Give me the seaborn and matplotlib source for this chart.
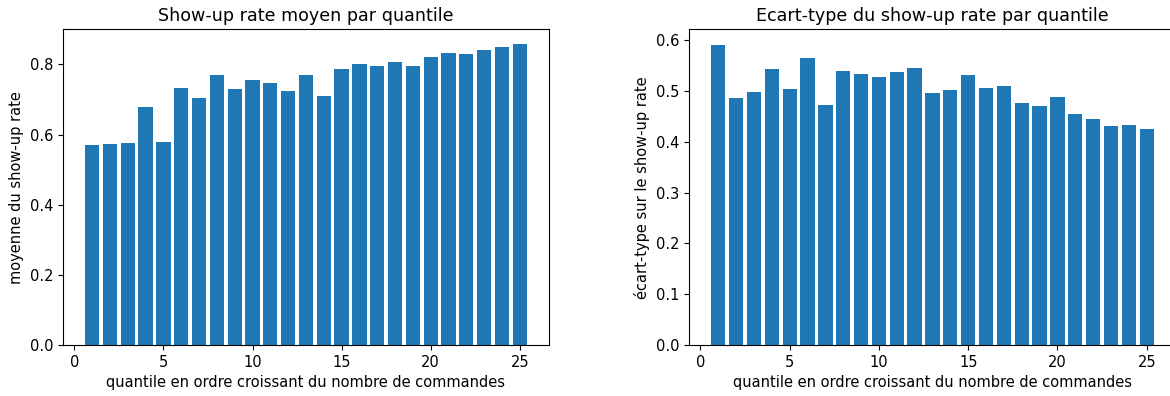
import matplotlib
matplotlib.use("Agg")
import matplotlib.pyplot as plt
import seaborn as sns
import pandas as pd

quantiles = list(range(1, 26))

mean_rate = [0.569, 0.574, 0.577, 0.680, 0.580, 0.734, 0.703, 0.771, 0.729, 0.757,
             0.746, 0.723, 0.769, 0.711, 0.786, 0.800, 0.797, 0.806, 0.797, 0.820,
             0.834, 0.831, 0.840, 0.851, 0.857]

std_rate = [0.591, 0.486, 0.498, 0.544, 0.504, 0.565, 0.473, 0.540, 0.534, 0.528,
            0.538, 0.546, 0.496, 0.502, 0.532, 0.507, 0.510, 0.477, 0.471, 0.488,
            0.455, 0.445, 0.431, 0.433, 0.425]

xticks = [0, 5, 10, 15, 20, 25]
yticks_mean = [0.0, 0.2, 0.4, 0.6, 0.8]
yticks_std = [0.0, 0.1, 0.2, 0.3, 0.4, 0.5, 0.6]

df = pd.DataFrame({"quantile": quantiles, "mean": mean_rate, "std": std_rate})

plt.rcParams["font.family"] = ["DejaVu Sans"]
plt.rcParams["font.size"] = 10.5
plt.rcParams["axes.titlesize"] = 12.6
plt.rcParams["axes.labelsize"] = 10.5
plt.rcParams["xtick.labelsize"] = 10.5
plt.rcParams["ytick.labelsize"] = 10.5

fig = plt.figure(figsize=(11.7, 3.96), dpi=100)
ax1 = fig.add_axes([0.0538, 0.1288, 0.4154, 0.797])
ax2 = fig.add_axes([0.5889, 0.1288, 0.4162, 0.797])

sns.barplot(data=df, x="quantile", y="mean", native_scale=True, color="#1f77b4",
            saturation=1, width=0.8, ax=ax1)
ax1.set_title("Show-up rate moyen par quantile")
ax1.set_xlabel("quantile en ordre croissant du nombre de commandes")
ax1.set_ylabel("moyenne du show-up rate")

sns.barplot(data=df, x="quantile", y="std", native_scale=True, color="#1f77b4",
            saturation=1, width=0.8, ax=ax2)
ax2.set_title("Ecart-type du show-up rate par quantile")
ax2.set_xlabel("quantile en ordre croissant du nombre de commandes")
ax2.set_ylabel("écart-type sur le show-up rate")

for ax in (ax1, ax2):
    ax.set_xlim(-0.64, 26.64)
    ax.set_xticks(xticks)
    ax.set_xticklabels([str(t) for t in xticks])

ax1.set_ylim(0, 0.9)
ax1.set_yticks(yticks_mean)
ax1.set_yticklabels([f"{t:.1f}" for t in yticks_mean])
ax2.set_ylim(0, 0.6217)
ax2.set_yticks(yticks_std)
ax2.set_yticklabels([f"{t:.1f}" for t in yticks_std])

fig.savefig("out.png", dpi=100)
